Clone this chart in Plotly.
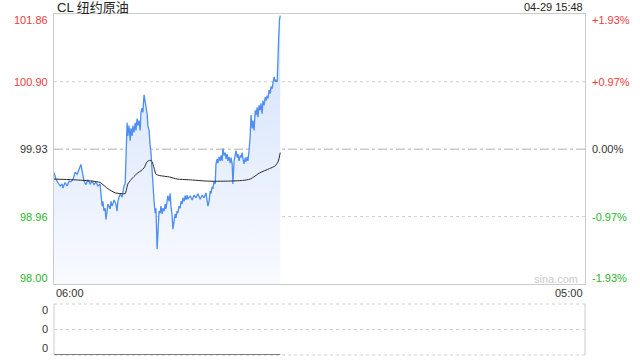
import plotly.graph_objects as go

# ---- data ----
prev_close = 99.93
price_minutes = [0, 5, 10, 16, 21, 23, 29, 34, 39, 44, 49, 55, 60, 65, 70, 73, 78, 83, 88, 94, 99, 104, 109, 114, 120,
                 122, 125, 127, 130, 133, 135, 138, 140, 146, 148, 151, 156, 161, 164, 166, 172, 177, 182, 185,
                 187, 190, 192, 195, 198, 200, 203, 205, 208, 211, 213, 216, 218, 221, 224, 226, 229, 231, 234,
                 237, 239, 242, 244, 247, 250, 252, 255, 257, 260, 263, 265, 268, 270, 273, 276, 278, 281, 283,
                 286, 289, 291, 294, 296, 299, 302, 304, 307, 309, 312, 315, 317, 320, 322, 325, 328, 330, 333,
                 335, 338, 341, 343, 346, 348, 354, 359, 364, 369, 374, 380, 385, 390, 395, 400, 403, 406, 408,
                 411, 413, 416, 419, 421, 424, 426, 429, 432, 434, 437, 439, 442, 445, 447, 450, 452, 455, 458,
                 460, 463, 465, 468, 471, 473, 476, 478, 481, 484, 486, 489, 491, 494, 497, 499, 502, 504, 507,
                 510, 512, 515, 517, 520, 523, 525, 528, 530, 533, 536, 538, 541, 543, 546, 549, 551, 554, 556,
                 559, 562, 564, 567, 569, 572, 575, 577, 580, 582, 584, 586, 588]
prices = [99.59, 99.50, 99.45, 99.40, 99.43, 99.37, 99.45, 99.40, 99.47, 99.46, 99.49, 99.60, 99.57, 99.65, 99.71,
          99.62, 99.47, 99.42, 99.49, 99.43, 99.47, 99.42, 99.46, 99.40, 99.43,
          99.29, 99.11, 99.18, 99.04, 99.08, 98.92, 99.04, 99.14, 99.07, 99.18, 99.11, 99.20, 99.14, 99.04,
          99.18, 99.29, 99.24, 99.40, 99.43,
          99.76, 100.31, 100.12, 100.27, 100.05, 100.23, 100.12, 100.27, 100.17, 100.31, 100.20, 100.37, 100.27,
          100.34, 100.20, 100.46, 100.52, 100.46, 100.71,
          100.60, 100.52, 100.44, 100.27, 100.20, 99.98, 99.88, 99.62, 99.40, 99.18, 99.01, 99.08, 98.49, 98.82,
          99.04, 99.01, 99.11, 99.00, 99.08,
          99.04, 99.14, 99.07, 99.18, 99.26, 99.18, 99.29, 99.11, 98.97, 98.78, 98.89, 99.00, 98.94, 99.04,
          99.01, 99.11, 99.08, 99.18, 99.14,
          99.23, 99.18, 99.26, 99.20, 99.27, 99.21, 99.26, 99.20, 99.27, 99.23, 99.29, 99.21, 99.27, 99.23,
          99.30, 99.11, 99.18, 99.33, 99.29,
          99.39, 99.36, 99.47, 99.43, 99.72, 99.79, 99.73, 99.82, 99.76, 99.84, 99.76, 99.94, 99.84, 99.88,
          99.79, 99.86, 99.76, 99.82, 99.73,
          99.81, 99.72, 99.43, 99.76, 99.84, 99.91, 99.81, 99.86, 99.76, 99.84, 99.81, 99.88, 99.79, 99.72,
          99.81, 99.75, 99.82, 99.76, 99.91,
          100.13, 100.42, 100.23, 100.34, 100.20, 100.49, 100.42, 100.53, 100.39, 100.56, 100.49, 100.59,
          100.44, 100.63, 100.56, 100.68, 100.63, 100.70, 100.66,
          100.78, 100.73, 100.83, 100.80, 100.88, 100.97, 100.90, 100.92, 100.90, 101.47, 101.54, 101.79, 101.85]

avg_minutes = [0, 50, 100, 120, 140, 160, 178, 185, 192, 205, 218, 226, 234, 242, 250, 255, 260, 265, 275,
               300, 320, 350, 400, 450, 490, 510, 535, 560, 575, 583, 588]
avg_prices = [99.50, 99.49, 99.47, 99.45, 99.36, 99.30, 99.29, 99.29, 99.43, 99.52, 99.59, 99.62, 99.66, 99.75,
              99.77, 99.75, 99.66, 99.57, 99.55, 99.53, 99.50, 99.49, 99.47, 99.47, 99.48, 99.50, 99.59, 99.65,
              99.69, 99.76, 99.88]

vol_minutes = [0, 588]
volumes = [0, 0]

price_ticks = [101.86, 100.90, 99.93, 98.96, 98.00]
price_tick_labels = ["101.86", "100.90", "99.93", "98.96", "98.00"]
pct_tick_labels = ["+1.93%", "+0.97%", "0.00%", "-0.97%", "-1.93%"]
tick_colors = ["#f03a3a", "#f03a3a", "#333333", "#2bb52b", "#2bb52b"]
x_tick_labels = ["06:00", "05:00"]
x_range = [0, 1380]
vol_tick_labels = ["0", "0", "0"]
vol_tick_pos = [0.88, 0.51, 0.14]

title_text = "CL 纽约原油"
time_text = "04-29 15:48"

y_range = [97.99, 101.875]

FONT = "Liberation Sans, Arial, sans-serif"

fig = go.Figure()

fig.add_trace(go.Scatter(
    x=price_minutes, y=prices, mode="lines",
    line=dict(color="#4d8ef0", width=1.3),
    fill="tozeroy",
    fillgradient=dict(type="vertical", start=y_range[0], stop=y_range[1],
                      colorscale=[[0, "#f8faff"], [1, "#d2e1fb"]]),
    xaxis="x", yaxis="y", hoverinfo="skip", showlegend=False))

fig.add_trace(go.Scatter(
    x=avg_minutes, y=avg_prices, mode="lines",
    line=dict(color="#2a2a2a", width=1, shape="spline", smoothing=0.6),
    xaxis="x", yaxis="y", hoverinfo="skip", showlegend=False))

fig.add_trace(go.Scatter(
    x=vol_minutes, y=volumes, mode="lines",
    line=dict(color="#555555", width=1.5),
    xaxis="x2", yaxis="y2", hoverinfo="skip", showlegend=False, cliponaxis=False))

main_dom = [1 - 284 / 360, 1 - 14 / 360]
vol_dom = [1 - 355 / 360, 1 - 304 / 360]

fig.update_layout(
    width=640, height=360,
    margin=dict(l=54, r=55, t=0, b=0),
    paper_bgcolor="white", plot_bgcolor="white",
    font=dict(family=FONT, size=11, color="#333"),
    xaxis=dict(domain=[0, 1], range=x_range, showgrid=False, zeroline=False, showticklabels=False,
               showline=True, mirror=True, linecolor="#cccccc", linewidth=1, anchor="y", fixedrange=True),
    yaxis=dict(domain=main_dom, range=y_range, showgrid=False, zeroline=False, showticklabels=False,
               showline=True, mirror=True, linecolor="#cccccc", linewidth=1, anchor="x"),
    xaxis2=dict(domain=[0, 1], range=x_range, showgrid=False, zeroline=False, showticklabels=False,
                showline=False, anchor="y2"),
    yaxis2=dict(domain=vol_dom, range=[0, 1], showgrid=False, zeroline=False, showticklabels=False,
                showline=False, anchor="x2"),
)

shapes = []
# price gridlines
for v in price_ticks[1:-1]:
    is_prev = abs(v - prev_close) < 1e-9
    shapes.append(dict(type="line", xref="x domain", yref="y", x0=0, x1=1, y0=v, y1=v,
                       line=dict(color="#b0b0b0" if is_prev else "#cfcfcf", width=1,
                                 dash="dashdot" if is_prev else "dot"), layer="below"))
# volume panel frame
for yy in [1, 0.5]:
    shapes.append(dict(type="line", xref="x2 domain", yref="y2 domain", x0=0, x1=1, y0=yy, y1=yy,
                       line=dict(color="#cfcfcf", width=1, dash="dot")))
shapes.append(dict(type="line", xref="x2 domain", yref="y2 domain", x0=0, x1=1, y0=0, y1=0,
                   line=dict(color="#cfcfcf", width=1, dash="dot"), layer="below"))
for xx in [0, 1]:
    shapes.append(dict(type="line", xref="x2 domain", yref="y2 domain", x0=xx, x1=xx, y0=0, y1=1,
                       line=dict(color="#cccccc", width=1)))
fig.update_layout(shapes=shapes)

ann = []
n = len(price_ticks)
for i, (v, lab, pl, c) in enumerate(zip(price_ticks, price_tick_labels, pct_tick_labels, tick_colors)):
    ys = -5 if i == 0 else (5 if i == n - 1 else 0)
    ann.append(dict(xref="paper", yref="y", x=-0.007, y=v, yshift=ys, text=lab, showarrow=False,
                    xanchor="right", yanchor="middle", font=dict(color=c, size=11, family=FONT)))
    ann.append(dict(xref="paper", yref="y", x=1.009, y=v, yshift=ys, text=pl, showarrow=False,
                    xanchor="left", yanchor="middle", font=dict(color=c, size=11, family=FONT)))
for p, lab in zip(vol_tick_pos, vol_tick_labels):
    ann.append(dict(xref="paper", yref="y2", x=-0.007, y=p, text=lab, showarrow=False,
                    xanchor="right", yanchor="middle", font=dict(color="#333", size=11, family=FONT)))
ann.append(dict(xref="paper", yref="paper", x=0, y=1 - 293 / 360, text=x_tick_labels[0], showarrow=False,
                xanchor="left", yanchor="middle", font=dict(color="#333", size=11, family=FONT)))
ann.append(dict(xref="paper", yref="paper", x=1, y=1 - 293 / 360, text=x_tick_labels[1], showarrow=False,
                xanchor="right", yanchor="middle", font=dict(color="#333", size=11, family=FONT)))
ann.append(dict(xref="paper", yref="paper", x=0.002, y=1 - 7 / 360, text=title_text, showarrow=False,
                xanchor="left", yanchor="middle", font=dict(color="#222", size=13,
                                                          family="Liberation Sans, Noto Sans CJK SC, sans-serif")))
ann.append(dict(xref="paper", yref="paper", x=1, y=1 - 7 / 360, text=time_text, showarrow=False,
                xanchor="right", yanchor="middle", font=dict(color="#222", size=11, family=FONT)))
ann.append(dict(xref="paper", yref="paper", x=0.946, y=1 - 279 / 360, text="sina.com", showarrow=False,
                xanchor="center", yanchor="middle", font=dict(color="#cccccc", size=11, family=FONT)))
fig.update_layout(annotations=ann)

fig.write_html("out.html", config={"displayModeBar": False})
